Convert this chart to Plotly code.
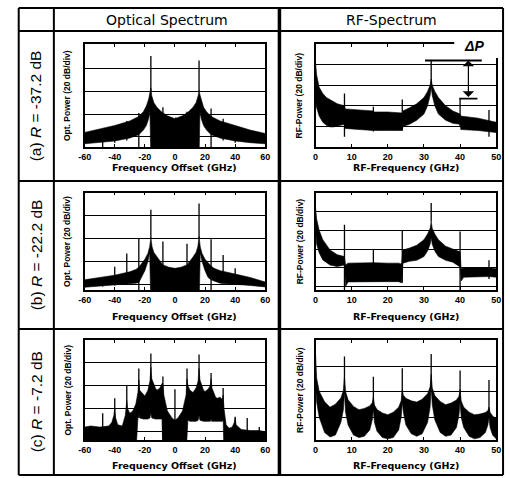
import plotly.graph_objects as go

W, H = 510, 478
def fx(px): return px / W
def fy(py): return 1 - py / H

# ---------------- data ----------------
# (a) optical spectrum, R = -37.2 dB
oa_x = [-60, -50, -40, -30, -24, -21, -19, -17.5, -16.6, -16, -15.4, -14, -12, -9, -5, 0,
        5, 9, 12, 14, 15.4, 16, 16.6, 17.5, 19, 21, 24, 30, 40, 50, 60]
oa_upper = [4, 7, 10, 14, 18, 22, 27, 33, 38, 43, 36, 30, 26, 22, 18.5, 16,
            18.5, 22, 26, 30, 36, 41, 37, 32, 26, 22, 18, 14, 10, 6, 3]
oa_lower = [-6, -5, -3.5, -1, 2, 6, 10, 16, 22, -20, -20, -20, -20, -20, -20, -20,
            -20, -20, -20, -20, -20, -20, 22, 16, 10, 6, 2, -1, -3.5, -5, -6]
oa_spike_x = [-48, -40, -32, -24, -16, -8, 0.5, 8, 16, 24, 32, 40]
oa_spike_top = [5, 8, 14, 21, 71, 26, 17, 22, 67, 25, 16, 8]
oa_spike_base = [-20, -5, -3, -20, 40, 20, 10, 15, 40, -20, -3, -5]

# (a) RF spectrum
ra_x = [0, 0.3, 1, 2, 3, 4, 5, 6, 8, 8.2, 12, 16, 16.2, 20, 24, 24.2, 26, 28, 30, 31, 31.7, 32,
        32.3, 33, 34, 36, 38, 40, 40.2, 45, 50]
ra_upper = [82, 70, 58, 52, 48, 46, 44, 42, 40, 37, 36, 35, 34, 34, 33, 35, 38, 42, 48, 54, 60, 66,
            60, 54, 48, 40, 35, 32, 30, 28, 24]
ra_lower = [45, 38, 30, 24, 21, 19.5, 19.5, 20, 22, 18, 17, 16, 16, 16, 16, 20, 22, 26, 32, 40, 50, 58,
            50, 40, 32, 26, 23, 22, 17, 16, 14]
ra_spike_x = [8, 16, 24, 32, 40, 48]
ra_spike_top = [52, 39, 46, 84, 47, 36]
ra_spike_base = [10, 15, 16, 60, 20, 10]
dp_top, dp_bottom = 84, 47
dp_top_x = [30.3, 46]
dp_bottom_x = [39.8, 44.8]
dp_arrow_x = 42.3

# (b) optical spectrum, R = -22.2 dB
ob_x = [-60, -50, -40, -30, -26, -24, -22, -20, -18, -16.8, -16, -15.2, -14, -12, -8, -4, 0, 4, 8,
        12, 14, 15.2, 16, 16.8, 18, 20, 22, 24, 26, 30, 40, 50, 60]
ob_upper = [4, 6, 8, 11, 13, 15, 18.5, 22, 27, 33, 41, 33, 28, 24, 17, 15, 14, 15, 17,
            24, 28, 33, 42, 33, 27, 22, 18.5, 16, 14, 12, 9, 6, 2]
ob_lower = [-2.6, -1.5, -0.6, 0.5, 1, 1.5, 6, 12, 20, 28, -20, -20, -20, -20, -20, -20, -20, -20, -20,
            -20, -20, -20, -20, 28, 20, 12, 6, 4, 3, 1, 0, -1, -2.3]
ob_spike_x = [-48, -40, -32, -24, -16, -8, 8, 16, 24, 32, 40]
ob_spike_top = [6, 15.5, 27, 40.5, 65.5, 37.5, 35.5, 71, 39.6, 25.8, 14]
ob_spike_base = [-2, -1, 0, -20, 40, -20, -20, 40, -20, 1, 0]

# (b) RF spectrum
rb_x = [0, 0.3, 1, 2, 4, 6, 8, 8.3, 9, 12, 16, 20, 23, 23.8, 24.2, 26, 28, 30, 31, 31.7, 32,
        32.3, 33, 34, 36, 38, 40, 40.3, 41, 45, 48, 50]
rb_upper = [84, 72, 60, 50, 39, 34, 32, 23, 25, 25.5, 25.5, 25, 25, 24, 39, 41, 44, 50, 56, 62, 69,
            62, 56, 50, 43, 40, 37, 19, 20, 20, 20, 19]
rb_lower = [60, 45, 36, 28.4, 23, 21.3, 23, 0, 5, 5.3, 5.3, 5.3, 5.3, 4, 25, 27, 28, 32, 38, 45, 52,
            45, 38, 32, 28, 26, 21, 6, 10, 10.7, 10.7, 10]
rb_spike_x = [8, 16, 24, 32, 40, 48]
rb_spike_top = [66, 39, 60, 89, 58.7, 28]
rb_spike_base = [-5, 10, 4, 69, -5, 8]

# (c) optical spectrum, R = -7.2 dB
oc_x = [-60, -56, -50, -44, -42, -40.6, -40, -39.4, -38, -35, -33, -32, -31.4, -30, -28, -26,
        -24.6, -24, -23.4, -21, -20, -18, -16.6, -16, -15.4, -13, -12, -10, -8.6, -8, -7.4, -5, -2,
        0, 2, 5, 7.4, 8, 8.6, 10, 12, 14, 15.4, 16, 16.6, 19, 20, 22, 23.4, 24, 24.6, 27, 28, 30,
        31.4, 32, 32.6, 34, 36, 38, 39.4, 40, 40.6, 44, 50, 56, 60]
oc_upper = [4, 5, 4, 5, 8, 14, 20, 12, 6, 5, 14, 27, 20, 16, 18, 24,
            34, 45, 36, 32, 31, 36, 44, 56, 46, 38, 36, 38, 42, 42, 32, 18, 12,
            10, 12, 18, 32, 46, 40, 36, 34, 38, 44, 55, 45, 36, 35, 37, 40, 46, 38, 30, 29, 30,
            28, 32, 20, 6, 3, 4, 8, 12, 6, 2, 1, 1, 0]
oc_lower = [-20, -20, -20, -20, -20, -20, -20, -20, -20, -20, -20, -20, -20, -20, -20, -20,
            12, 16, 12, 11, 11, 11, 12, 16, 12, 11, 11, 11, 11, -20, -20, -20, -20,
            -20, -20, -20, -20, -20, 10, 9, 9, 9, 10, 14, 10, 9, 9, 9, 9, 12, 9, 9, 9, 9,
            9, 11, -20, -20, -20, -20, -20, -20, -20, -20, -20, -20, -20]
oc_spike_x = [-56, -48, -40, -32, -24, -16, -8, 0, 8, 16, 24, 32, 40, 48, 56]
oc_spike_top = [4, 16, 29, 40, 55, 68, 48, 37, 55, 67, 51, 38, 13, 12, 4]
oc_spike_base = [-20, -20, -20, -20, 12, 16, -20, -20, 10, 14, 9, 9, -20, -20, -20]

# (c) RF spectrum
rc_x = [0, 0.3, 1, 2.5, 4, 5.5, 7, 7.7, 8, 8.3, 9, 10.5, 12, 13.5, 15, 15.7, 16,
        16.3, 17, 18.5, 20, 21.5, 23, 23.7, 24, 24.3, 25, 26.5, 28, 29.5, 31, 31.7, 32,
        32.3, 33, 34.5, 36, 37.5, 39, 39.7, 40, 40.3, 41, 42.5, 44, 45.5, 47, 47.7, 48,
        48.3, 49, 50]
rc_upper = [70, 51, 40.6, 32.2, 28, 30.4, 35.2, 41.2, 52, 40.3, 33.8, 28.6, 26, 27, 29, 31.5, 36,
            29.7, 26.2, 23.4, 22, 24, 28, 33, 42, 37.5, 35, 33, 32, 34.2, 38.6, 44, 54,
            43.2, 37.2, 32.4, 30, 31.2, 33.6, 36.6, 42, 33, 28, 24, 22, 22.6, 23.8, 25.3, 28,
            24, 21, 19]
rc_lower = [45, 32, 20, 8, 4.5, 6, 16, 26, 40, 24, 14, 6, 4, 5, 10, 18, 26,
            16, 9, 4, 3, 4, 10, 20, 32, 24, 14, 7, 5, 7, 16, 28, 44,
            30, 18, 8, 5, 6, 12, 22, 32, 20, 12, 5, 3, 4, 8, 14, 20,
            12, 6, 3]
rc_spike_x = [8, 16, 24, 32, 40, 48]
rc_spike_top = [68, 52, 58.7, 70, 57, 49.5]
rc_spike_base = [40, 26, 32, 44, 32, 20]

opt_ticks = [-60, -40, -20, 0, 20, 40, 60]
opt_ticktext = ["-60", "-40", "-20", "0", "20", "40", "60"]
rf_ticks = [0, 10, 20, 30, 40, 50]
rf_ticktext = ["0", "10", "20", "30", "40", "50"]

header_texts = ["Optical Spectrum", "RF-Spectrum"]
row_labels = ["(a) <i>R</i> = -37.2 dB", "(b) <i>R</i> = -22.2 dB", "(c) <i>R</i> = -7.2 dB"]
x_titles = ["Frequency Offset (GHz)", "RF-Frequency (GHz)"]
y_titles = ["Opt. Power (20 dB/div)", "RF-Power (20 dB/div)"]

# ---------------- layout geometry (pixels) ----------------
col_px = [(79.5, 264.5), (316, 501)]
row_py = [(44, 147), (192.7, 290), (340, 440)]
yranges = [[-8.8, 81.4], [0, 100], [-5, 80.4], [-3.6, 100], [-7.2, 79.7], [2.1, 81]]
ygrids = [[0, 20, 40, 60], [20, 40, 60, 80], [0, 20, 40, 60], [0, 20, 40, 60, 80],
          [0, 20, 40, 60], [20, 40, 60]]

panels = [
    (oa_x, oa_upper, oa_lower, oa_spike_x, oa_spike_base, oa_spike_top),
    (ra_x, ra_upper, ra_lower, ra_spike_x, ra_spike_base, ra_spike_top),
    (ob_x, ob_upper, ob_lower, ob_spike_x, ob_spike_base, ob_spike_top),
    (rb_x, rb_upper, rb_lower, rb_spike_x, rb_spike_base, rb_spike_top),
    (oc_x, oc_upper, oc_lower, oc_spike_x, oc_spike_base, oc_spike_top),
    (rc_x, rc_upper, rc_lower, rc_spike_x, rc_spike_base, rc_spike_top),
]

fig = go.Figure()
layout = dict(width=W, height=H, margin=dict(l=0, r=0, t=0, b=0),
              paper_bgcolor="white", plot_bgcolor="white", showlegend=False,
              font=dict(family="Liberation Sans", color="black"))

tickfont = dict(family="Liberation Sans", size=9, weight="bold", color="black")

for i, (xs, up, lo, sx, sb, st) in enumerate(panels):
    r, c = divmod(i, 2)
    n = "" if i == 0 else str(i + 1)
    xa, ya = "x" + n, "y" + n
    fig.add_trace(go.Scatter(x=xs + xs[::-1], y=up + lo[::-1], fill="toself",
                             fillcolor="black", mode="lines",
                             line=dict(color="black", width=0.6),
                             xaxis=xa, yaxis=ya, hoverinfo="skip"))
    SX, SY = [], []
    for a, b, t in zip(sx, sb, st):
        SX += [a, a, None]
        SY += [b, t, None]
    fig.add_trace(go.Scatter(x=SX, y=SY, mode="lines",
                             line=dict(color="black", width=1.3),
                             xaxis=xa, yaxis=ya, hoverinfo="skip"))
    x0, x1 = col_px[c]
    y0, y1 = row_py[r]
    if c == 0:
        tv, tt, xr = opt_ticks, opt_ticktext, [-60, 60]
    else:
        tv, tt, xr = rf_ticks, rf_ticktext, [0, 50]
    layout["xaxis" + n] = dict(domain=[fx(x0), fx(x1)], range=xr, anchor=ya,
                               tickvals=tv, ticktext=tt, tickfont=tickfont,
                               ticks="inside", ticklen=3, tickcolor="black",
                               showline=True, linecolor="black", linewidth=1.5,
                               mirror="ticks", showgrid=False, zeroline=False,
                               fixedrange=True)
    layout["yaxis" + n] = dict(domain=[fy(y1), fy(y0)], range=yranges[i], anchor=xa,
                               tickvals=ygrids[i], showticklabels=False, ticks="",
                               showgrid=True, gridcolor="black", gridwidth=1.3,
                               showline=True, linecolor="black", linewidth=1.5,
                               mirror=True, zeroline=False, fixedrange=True)

fig.update_layout(**layout)

shapes = []
ann = []
# table borders
def pline(x0, y0, x1, y1, w=2):
    shapes.append(dict(type="line", xref="paper", yref="paper",
                       x0=fx(x0), y0=fy(y0), x1=fx(x1), y1=fy(y1),
                       line=dict(color="black", width=w)))
pline(12, 8, 508, 8)
pline(12, 475, 508, 475)
pline(12, 8, 12, 475)
pline(508, 8, 508, 475)
pline(12, 31, 508, 31, 2)
pline(48, 8, 48, 475, 2)
pline(279, 8, 279, 475, 3.5)
pline(12, 181, 508, 181, 2)
pline(12, 329, 508, 329, 2)

def text(px, py, t, size, family="Liberation Sans", weight="normal", angle=0):
    ann.append(dict(xref="paper", yref="paper", x=fx(px), y=fy(py), text=t,
                    showarrow=False, xanchor="center", yanchor="middle", textangle=angle,
                    font=dict(family=family, size=size, weight=weight, color="black")))

# white patch where the Delta-P label breaks the RF(a) frame
shapes.append(dict(type="rect", xref="paper", yref="paper", layer="above",
                   x0=fx(458), x1=fx(504), y0=fy(58), y1=fy(38),
                   fillcolor="white", line=dict(width=0)))
# Delta P bars
shapes.append(dict(type="line", xref="x2", yref="y2", x0=dp_top_x[0], x1=dp_top_x[1],
                   y0=dp_top, y1=dp_top, line=dict(color="black", width=1.8)))
shapes.append(dict(type="line", xref="x2", yref="y2", x0=dp_bottom_x[0], x1=dp_bottom_x[1],
                   y0=dp_bottom, y1=dp_bottom, line=dict(color="black", width=1.8)))
ann.append(dict(xref="x2", yref="y2", x=dp_arrow_x, y=dp_top, axref="x2", ayref="y2",
                ax=dp_arrow_x, ay=dp_bottom, showarrow=True, arrowside="end+start",
                arrowhead=1, arrowsize=1.6, arrowwidth=1.2, arrowcolor="black", text=""))
text(478, 46, "<b><i>ΔP</i></b>", 14)

# headers
text((48 + 279) / 2, 19.5, header_texts[0], 14, family="DejaVu Sans")
text((279 + 508) / 2, 19.5, header_texts[1], 14, family="DejaVu Sans")
# row labels
row_centers = [(31 + 181) / 2, (181 + 329) / 2, (329 + 475) / 2]
for r, t in enumerate(row_labels):
    text(30, row_centers[r], t, 15.5, angle=-90)
# axis titles
xt_py = [167, 316, 465]
for r in range(3):
    for c in range(2):
        x0, x1 = col_px[c]
        y0, y1 = row_py[r]
        text((x0 + x1) / 2, xt_py[r], x_titles[c], 9.5, family="DejaVu Sans", weight="bold")
        text(62 if c == 0 else 300, (y0 + y1) / 2, y_titles[c], 8.5, weight="bold", angle=-90)

fig.update_layout(shapes=shapes, annotations=ann)
fig.write_html("out.html")
